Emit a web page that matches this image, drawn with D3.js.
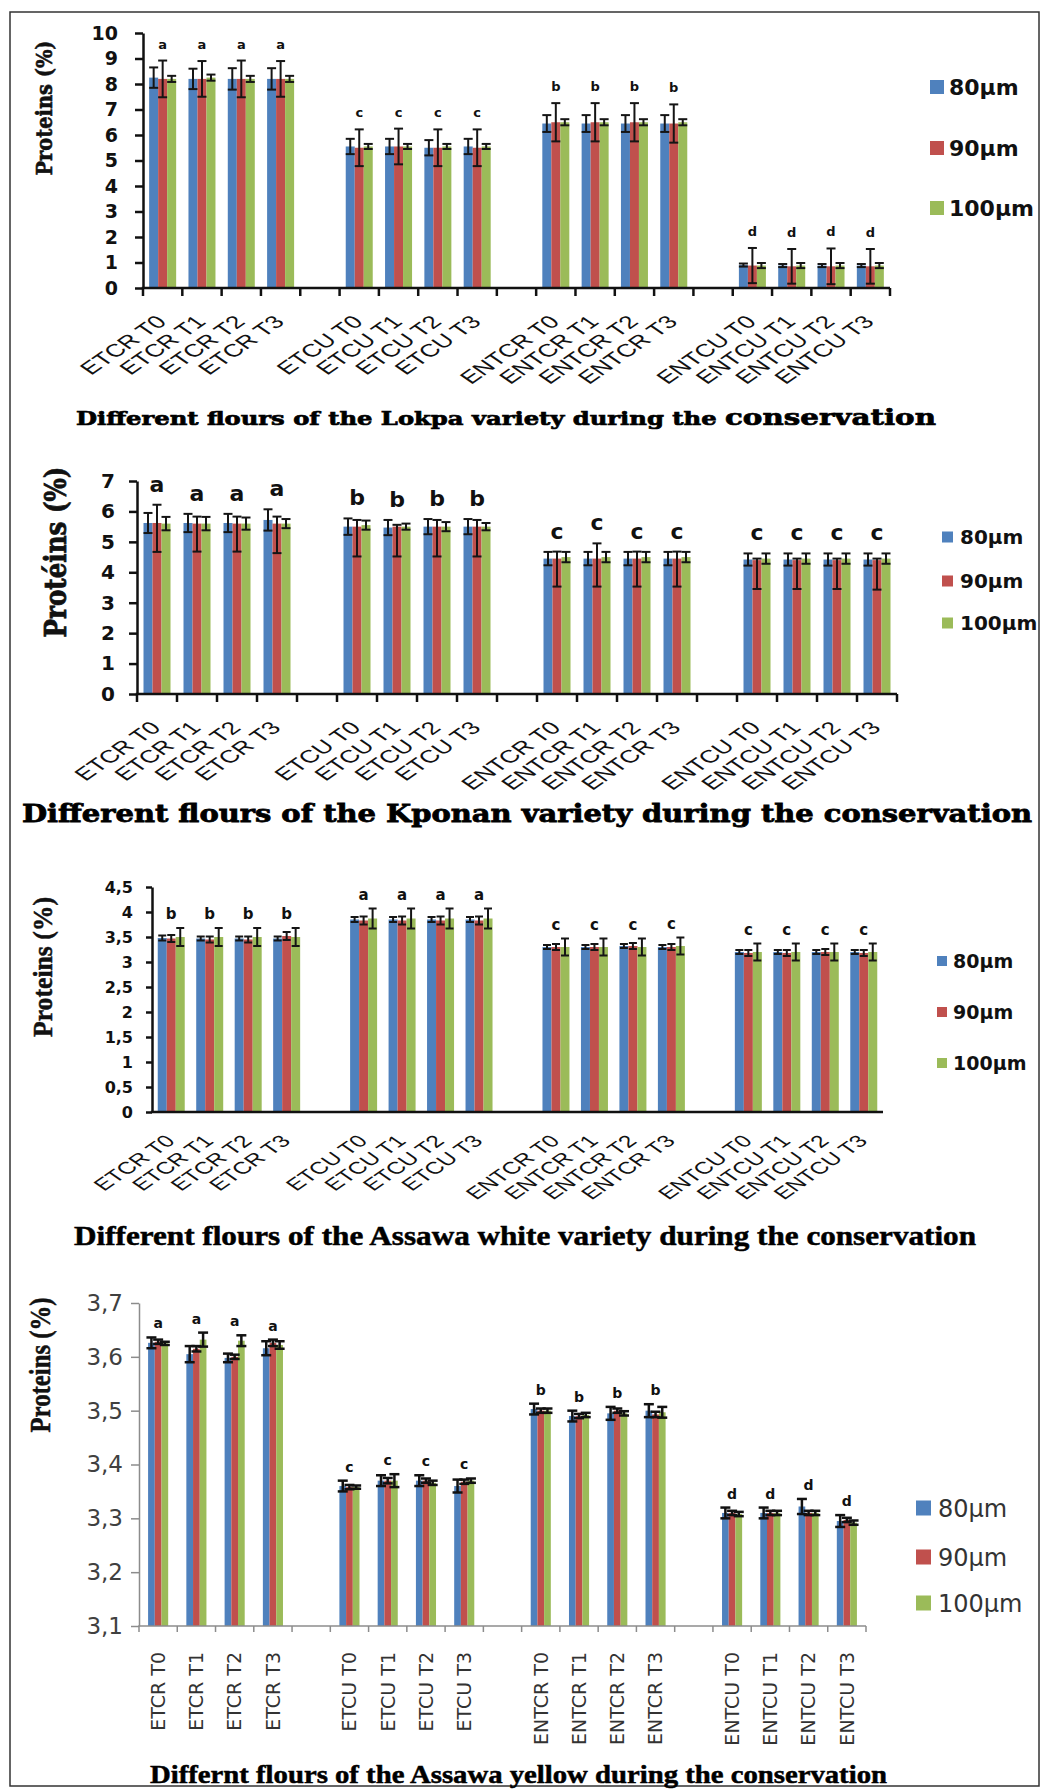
<!DOCTYPE html>
<html>
<head>
<meta charset="utf-8">
<script src="https://cdn.jsdelivr.net/npm/d3@7"></script>
<style>
  body { margin: 0; background: #fff; }
  svg { display: block; }
</style>
</head>
<body>
<svg id="fig" width="1043" height="1789"></svg>
<script>
// ---- shared categories ----
const groups = ["ETCR", "ETCU", "ENTCR", "ENTCU"];
const times = ["T0", "T1", "T2", "T3"];
const categories = groups.flatMap(g => times.map(t => g + " " + t));
const sizes = ["80µm", "90µm", "100µm"];
const colors = ["#4F81BD", "#C0504D", "#9BBB59"];

// ---- Lokpa ----
const lokpa80     = [8.25, 8.2, 8.2, 8.2,  5.55, 5.55, 5.5, 5.55,  6.45, 6.45, 6.45, 6.45,  0.9, 0.88, 0.88, 0.88];
const lokpa80Err  = [0.4, 0.4, 0.42, 0.42,  0.3, 0.3, 0.3, 0.3,  0.33, 0.33, 0.33, 0.33,  0.06, 0.06, 0.06, 0.06];
const lokpa90     = [8.2, 8.2, 8.2, 8.2,  5.5, 5.55, 5.5, 5.5,  6.5, 6.5, 6.5, 6.45,  0.88, 0.85, 0.85, 0.85];
const lokpa90Err  = [0.72, 0.7, 0.72, 0.7,  0.72, 0.7, 0.72, 0.72,  0.75, 0.75, 0.75, 0.75,  0.69, 0.68, 0.7, 0.68];
const lokpa100    = [8.2, 8.25, 8.2, 8.2,  5.55, 5.55, 5.55, 5.55,  6.5, 6.5, 6.5, 6.5,  0.88, 0.88, 0.88, 0.88];
const lokpa100Err = [0.12, 0.12, 0.12, 0.12,  0.1, 0.1, 0.1, 0.1,  0.12, 0.12, 0.12, 0.12,  0.1, 0.1, 0.1, 0.1];
const lokpaLetters = ["a","a","a","a", "c","c","c","c", "b","b","b","b", "d","d","d","d"];

// ---- Kponan ----
const kponan80       = [5.62, 5.62, 5.62, 5.72,  5.5, 5.47, 5.5, 5.5,  4.45, 4.45, 4.45, 4.45,  4.42, 4.42, 4.42, 4.42];
const kponan80Err    = [0.33, 0.3, 0.3, 0.35,  0.27, 0.25, 0.25, 0.25,  0.22, 0.22, 0.22, 0.22,  0.2, 0.2, 0.2, 0.2];
const kponan90       = [5.62, 5.6, 5.6, 5.6,  5.5, 5.5, 5.5, 5.5,  4.45, 4.45, 4.45, 4.45,  4.4, 4.4, 4.4, 4.4];
const kponan90ErrUp  = [0.6, 0.23, 0.23, 0.23,  0.22, 0.06, 0.22, 0.22,  0.23, 0.5, 0.23, 0.23,  0.05, 0.05, 0.05, 0.05];
const kponan90ErrLow = [0.95, 0.92, 0.92, 0.97,  0.98, 0.98, 0.98, 0.98,  0.92, 0.92, 0.92, 0.92,  0.95, 0.95, 0.95, 0.97];
const kponan100      = [5.6, 5.6, 5.6, 5.6,  5.55, 5.5, 5.5, 5.5,  4.5, 4.5, 4.5, 4.5,  4.45, 4.45, 4.45, 4.45];
const kponan100Err   = [0.22, 0.22, 0.2, 0.15,  0.15, 0.1, 0.15, 0.12,  0.17, 0.17, 0.17, 0.17,  0.17, 0.17, 0.17, 0.17];
const kponanLetters = ["a","a","a","a", "b","b","b","b", "c","c","c","c", "c","c","c","c"];

// ---- Assawa white ----
const white80     = [3.48, 3.47, 3.47, 3.47,  3.85, 3.85, 3.85, 3.85,  3.3, 3.3, 3.32, 3.3,  3.2, 3.2, 3.2, 3.2];
const white80Err  = [0.05, 0.04, 0.04, 0.04,  0.05, 0.05, 0.05, 0.05,  0.04, 0.04, 0.04, 0.04,  0.04, 0.04, 0.04, 0.04];
const white90     = [3.47, 3.45, 3.45, 3.52,  3.83, 3.83, 3.83, 3.83,  3.3, 3.3, 3.32, 3.3,  3.18, 3.18, 3.2, 3.18];
const white90Err  = [0.07, 0.06, 0.06, 0.08,  0.08, 0.08, 0.08, 0.08,  0.06, 0.06, 0.06, 0.06,  0.06, 0.06, 0.06, 0.06];
const white100    = [3.5, 3.5, 3.5, 3.5,  3.87, 3.87, 3.87, 3.87,  3.3, 3.3, 3.3, 3.32,  3.2, 3.2, 3.2, 3.2];
const white100Err = [0.18, 0.18, 0.18, 0.18,  0.2, 0.2, 0.2, 0.2,  0.17, 0.17, 0.17, 0.17,  0.17, 0.17, 0.17, 0.17];
const whiteLetters = ["b","b","b","b", "a","a","a","a", "c","c","c","c", "c","c","c","c"];

// ---- Assawa yellow ----
const yellow80     = [3.626, 3.605, 3.598, 3.616,  3.36, 3.37, 3.37, 3.36,  3.503, 3.49, 3.495, 3.5,  3.31, 3.31, 3.322, 3.295];
const yellow80Err  = [0.01, 0.015, 0.008, 0.013,  0.01, 0.01, 0.01, 0.012,  0.01, 0.01, 0.012, 0.012,  0.01, 0.01, 0.014, 0.011];
const yellow90     = [3.628, 3.615, 3.6, 3.626,  3.358, 3.37, 3.37, 3.368,  3.5, 3.49, 3.5, 3.493,  3.31, 3.31, 3.31, 3.297];
const yellow90Err  = [0.004, 0.005, 0.004, 0.006,  0.004, 0.005, 0.004, 0.004,  0.004, 0.004, 0.004, 0.005,  0.004, 0.004, 0.004, 0.004];
const yellow100    = [3.625, 3.632, 3.63, 3.622,  3.358, 3.37, 3.366, 3.37,  3.5, 3.492, 3.495, 3.497,  3.308, 3.31, 3.31, 3.292];
const yellow100Err = [0.003, 0.013, 0.01, 0.007,  0.003, 0.012, 0.004, 0.004,  0.004, 0.004, 0.004, 0.01,  0.004, 0.004, 0.004, 0.004];
const yellowLetters = ["a","a","a","a", "c","c","c","c", "b","b","b","b", "d","d","d","d"];

// ---- tick values ----
const lokpaTicks  = [0, 1, 2, 3, 4, 5, 6, 7, 8, 9, 10];
const kponanTicks = [0, 1, 2, 3, 4, 5, 6, 7];
const whiteTicks  = [0, 0.5, 1, 1.5, 2, 2.5, 3, 3.5, 4, 4.5];
const yellowTicks = [3.1, 3.2, 3.3, 3.4, 3.5, 3.6, 3.7];

// category slots, with an empty slot between two groups
const slots = [];
categories.forEach((c, i) => {
  if (i > 0 && i % 4 === 0) slots.push("gap" + i);
  slots.push(c);
});

const commaFmt = f => d => f(d).replace(".", ",");

const svg = d3.select("#fig");
svg.append("rect").attr("width", 1043).attr("height", 1789).attr("fill", "#fff");
svg.append("rect").attr("x", 10).attr("y", 12).attr("width", 1029).attr("height", 1774)
  .attr("fill", "none").attr("stroke", "#333").attr("stroke-width", 1.5);

function drawPanel(p) {
  const g = svg.append("g");
  const y = d3.scaleLinear().domain(p.domain).range([p.yBase, p.yTop]);
  const xb = d3.scaleBand().domain(slots).range([p.x0, p.x1]);
  const bw = xb.bandwidth();
  const pad = (bw / p.barW - 3) / 2;
  const xs = d3.scaleBand().domain(sizes).range([0, bw]).paddingInner(0).paddingOuter(pad);

  const series = p.series.map((s, k) => ({
    key: sizes[k], color: colors[k],
    rows: categories.map((c, i) => ({
      cat: c, v: s.values[i],
      up: s.errUp[i], low: (s.errLow || s.errUp)[i]
    }))
  }));

  // bars
  series.forEach(s => {
    g.append("g").selectAll("rect").data(s.rows).join("rect")
      .attr("x", d => xb(d.cat) + xs(s.key))
      .attr("width", xs.bandwidth())
      .attr("y", d => y(d.v))
      .attr("height", d => p.yBase - y(d.v))
      .attr("fill", s.color);
  });

  // error bars
  series.forEach(s => {
    const eg = g.append("g").attr("stroke", p.errColor).attr("stroke-width", p.errW).attr("fill", "none");
    s.rows.forEach(d => {
      const cx = xb(d.cat) + xs(s.key) + xs.bandwidth() / 2;
      const yHi = y(d.v + d.up), yLo = y(d.v - d.low);
      eg.append("line").attr("x1", cx).attr("x2", cx).attr("y1", yHi).attr("y2", yLo);
      eg.append("line").attr("x1", cx - p.capW / 2).attr("x2", cx + p.capW / 2).attr("y1", yHi).attr("y2", yHi);
      eg.append("line").attr("x1", cx - p.capW / 2).attr("x2", cx + p.capW / 2).attr("y1", yLo).attr("y2", yLo);
    });
  });

  // significance letters
  categories.forEach((c, i) => {
    const top = d3.max(series, s => s.rows[i].v + s.rows[i].up);
    g.append("text")
      .attr("x", xb(c) + bw / 2)
      .attr("y", y(top) - p.letterGap)
      .attr("text-anchor", "middle")
      .attr("font-family", "DejaVu Sans").attr("font-weight", "bold")
      .attr("font-size", p.letterSize).attr("fill", "#111")
      .text(p.letters[i]);
  });

  // y axis
  const ya = g.append("g").attr("transform", `translate(${p.x0},0)`)
    .call(d3.axisLeft(y).tickValues(p.ticks).tickFormat(p.fmt)
      .tickSize(p.tickLen).tickSizeOuter(0).tickPadding(p.tickPad));
  ya.selectAll("path, line").attr("stroke", p.axisColor).attr("stroke-width", p.axisW);
  ya.selectAll("text").attr("font-family", "DejaVu Sans")
    .attr("font-weight", p.tickWeight).attr("font-size", p.tickSize).attr("fill", p.tickColor);

  // x axis line and boundary ticks
  const xa = g.append("g").attr("stroke", p.axisColor).attr("stroke-width", p.axisW);
  xa.append("line").attr("x1", p.x0 - p.axisW / 2).attr("x2", p.x1).attr("y1", p.yBase).attr("y2", p.yBase);
  if (p.xTickLen) {
    slots.map(s => xb(s)).concat([p.x1]).forEach(bx => {
      xa.append("line").attr("x1", bx).attr("x2", bx).attr("y1", p.yBase).attr("y2", p.yBase + p.xTickLen);
    });
  }

  // category labels
  const lab = g.append("g").attr("font-family", p.labFont).attr("font-size", p.labSize).attr("fill", p.labColor);
  categories.forEach(c => {
    const cx = xb(c) + bw / 2;
    if (p.labVertical) {
      lab.append("text")
        .attr("transform", `translate(${cx + p.labSize * 0.36},${p.yBase + p.labDy}) rotate(-90)`)
        .attr("text-anchor", "end").text(c);
    } else {
      lab.append("text")
        .attr("transform", `translate(${cx + p.labDx},${p.yBase + p.labDy}) scale(${p.labStretch},1) rotate(-45)`)
        .attr("text-anchor", "end").text(c);
    }
  });

  // y title
  g.append("text")
    .attr("transform", `translate(${p.title.x},${p.title.y}) rotate(-90)`)
    .attr("text-anchor", "middle")
    .attr("font-family", p.title.font).attr("font-weight", "bold")
    .attr("font-size", p.title.size).attr("fill", "#111")
    .attr("stroke", "#111").attr("stroke-width", p.title.heavy || 0)
    .attr("textLength", p.title.len).attr("lengthAdjust", "spacingAndGlyphs")
    .text(p.title.text);

  // legend
  sizes.forEach((s, k) => {
    const cy = p.legend.ys[k];
    g.append("rect").attr("x", p.legend.x).attr("y", cy - p.legend.sq / 2)
      .attr("width", p.legend.sq).attr("height", p.legend.sq).attr("fill", colors[k]);
    g.append("text").attr("x", p.legend.tx).attr("y", cy).attr("dy", "0.36em")
      .attr("font-family", "DejaVu Sans").attr("font-weight", p.legend.weight)
      .attr("font-size", p.legend.size).attr("fill", p.legend.color).text(s);
  });

  // caption
  const cap = g.append("text").attr("x", p.caption.x).attr("y", p.caption.y)
    .attr("font-family", p.caption.font).attr("font-weight", "bold")
    .attr("font-size", p.caption.size).attr("fill", "#000")
    .attr("stroke", "#000").attr("stroke-width", p.caption.heavy || 0)
    .attr("textLength", p.caption.len).attr("lengthAdjust", "spacingAndGlyphs");
  p.caption.parts.forEach(pt => {
    cap.append("tspan").attr("font-size", pt.size || p.caption.size).text(pt.text);
  });
}

// Lokpa
drawPanel({
  domain: [0, 10], yTop: 33, yBase: 288, x0: 143, x1: 890,
  ticks: lokpaTicks, fmt: d3.format("d"),
  series: [
    { values: lokpa80, errUp: lokpa80Err },
    { values: lokpa90, errUp: lokpa90Err },
    { values: lokpa100, errUp: lokpa100Err }
  ],
  letters: lokpaLetters, letterGap: 12, letterSize: 13,
  barW: 9, capW: 9, errW: 2, errColor: "#151515",
  axisColor: "#111", axisW: 2.5, tickLen: 8, tickPad: 17, xTickLen: 8,
  tickWeight: "bold", tickSize: 19, tickColor: "#111",
  labFont: "Liberation Sans", labSize: 18, labColor: "#111", labDx: 5, labDy: 35, labStretch: 1.45,
  title: { text: "Proteins (%)", x: 52, y: 108, size: 23, len: 135, font: "DejaVu Serif", heavy: 0.6 },
  legend: { x: 930, sq: 14, tx: 949, ys: [87, 148, 208], size: 22, weight: "bold", color: "#111" },
  caption: { x: 76, y: 425, size: 19, len: 860, font: "DejaVu Serif", heavy: 0.7,
    parts: [{ text: "Different flours of the Lokpa variety during the " }, { text: "conservation", size: 23 }] }
});

// Kponan
drawPanel({
  domain: [0, 7], yTop: 481, yBase: 694, x0: 137, x1: 897,
  ticks: kponanTicks, fmt: d3.format("d"),
  series: [
    { values: kponan80, errUp: kponan80Err },
    { values: kponan90, errUp: kponan90ErrUp, errLow: kponan90ErrLow },
    { values: kponan100, errUp: kponan100Err }
  ],
  letters: kponanLetters, letterGap: 13, letterSize: 22,
  barW: 9, capW: 9, errW: 2, errColor: "#151515",
  axisColor: "#111", axisW: 2.5, tickLen: 8, tickPad: 14, xTickLen: 8,
  tickWeight: "bold", tickSize: 20, tickColor: "#111",
  labFont: "Liberation Sans", labSize: 18, labColor: "#111", labDx: 5, labDy: 35, labStretch: 1.45,
  title: { text: "Protéins (%)", x: 66, y: 552, size: 30, len: 171, font: "DejaVu Serif", heavy: 0.8 },
  legend: { x: 942, sq: 11, tx: 960, ys: [537, 581, 623], size: 20, weight: "bold", color: "#111" },
  caption: { x: 22, y: 822, size: 24, len: 1010, font: "DejaVu Serif", heavy: 0.8,
    parts: [{ text: "Different flours of the Kponan variety during the conservation" }] }
});

// Assawa white
drawPanel({
  domain: [0, 4.5], yTop: 887, yBase: 1112, x0: 152, x1: 883,
  ticks: whiteTicks, fmt: commaFmt(d3.format("~g")),
  series: [
    { values: white80, errUp: white80Err },
    { values: white90, errUp: white90Err },
    { values: white100, errUp: white100Err }
  ],
  letters: whiteLetters, letterGap: 9, letterSize: 15,
  barW: 9, capW: 8, errW: 2, errColor: "#151515",
  axisColor: "#111", axisW: 2.5, tickLen: 6, tickPad: 13, xTickLen: 0,
  tickWeight: "bold", tickSize: 16, tickColor: "#111",
  labFont: "Liberation Sans", labSize: 17, labColor: "#111", labDx: 5, labDy: 30, labStretch: 1.45,
  title: { text: "Proteins (%)", x: 52, y: 967, size: 27, len: 140, font: "Liberation Serif", heavy: 0.5 },
  legend: { x: 937, sq: 10, tx: 953, ys: [961, 1012, 1063], size: 19, weight: "bold", color: "#111" },
  caption: { x: 74, y: 1245, size: 27, len: 902, font: "Liberation Serif", heavy: 0.5,
    parts: [{ text: "Different flours of the Assawa white variety during the conservation" }] }
});

// Assawa yellow
drawPanel({
  domain: [3.1, 3.7], yTop: 1303, yBase: 1626, x0: 139, x1: 866,
  ticks: yellowTicks, fmt: commaFmt(d3.format(".1f")),
  series: [
    { values: yellow80, errUp: yellow80Err },
    { values: yellow90, errUp: yellow90Err },
    { values: yellow100, errUp: yellow100Err }
  ],
  letters: yellowLetters, letterGap: 9, letterSize: 14,
  barW: 6.7, capW: 10, errW: 2.5, errColor: "#111",
  axisColor: "#8c8c8c", axisW: 1.5, tickLen: 8, tickPad: 8, xTickLen: 6,
  tickWeight: "normal", tickSize: 23, tickColor: "#404040",
  labFont: "DejaVu Sans", labSize: 19, labColor: "#333", labDy: 26, labVertical: true,
  title: { text: "Proteins (%)", x: 50, y: 1365, size: 30, len: 135, font: "Liberation Serif", heavy: 0.5 },
  legend: { x: 916, sq: 15, tx: 938, ys: [1508, 1557, 1603], size: 24, weight: "normal", color: "#333" },
  caption: { x: 150, y: 1783, size: 25, len: 737, font: "Liberation Serif", heavy: 0.5,
    parts: [{ text: "Differnt flours of the Assawa yellow during the conservation" }] }
});
</script>
</body>
</html>
